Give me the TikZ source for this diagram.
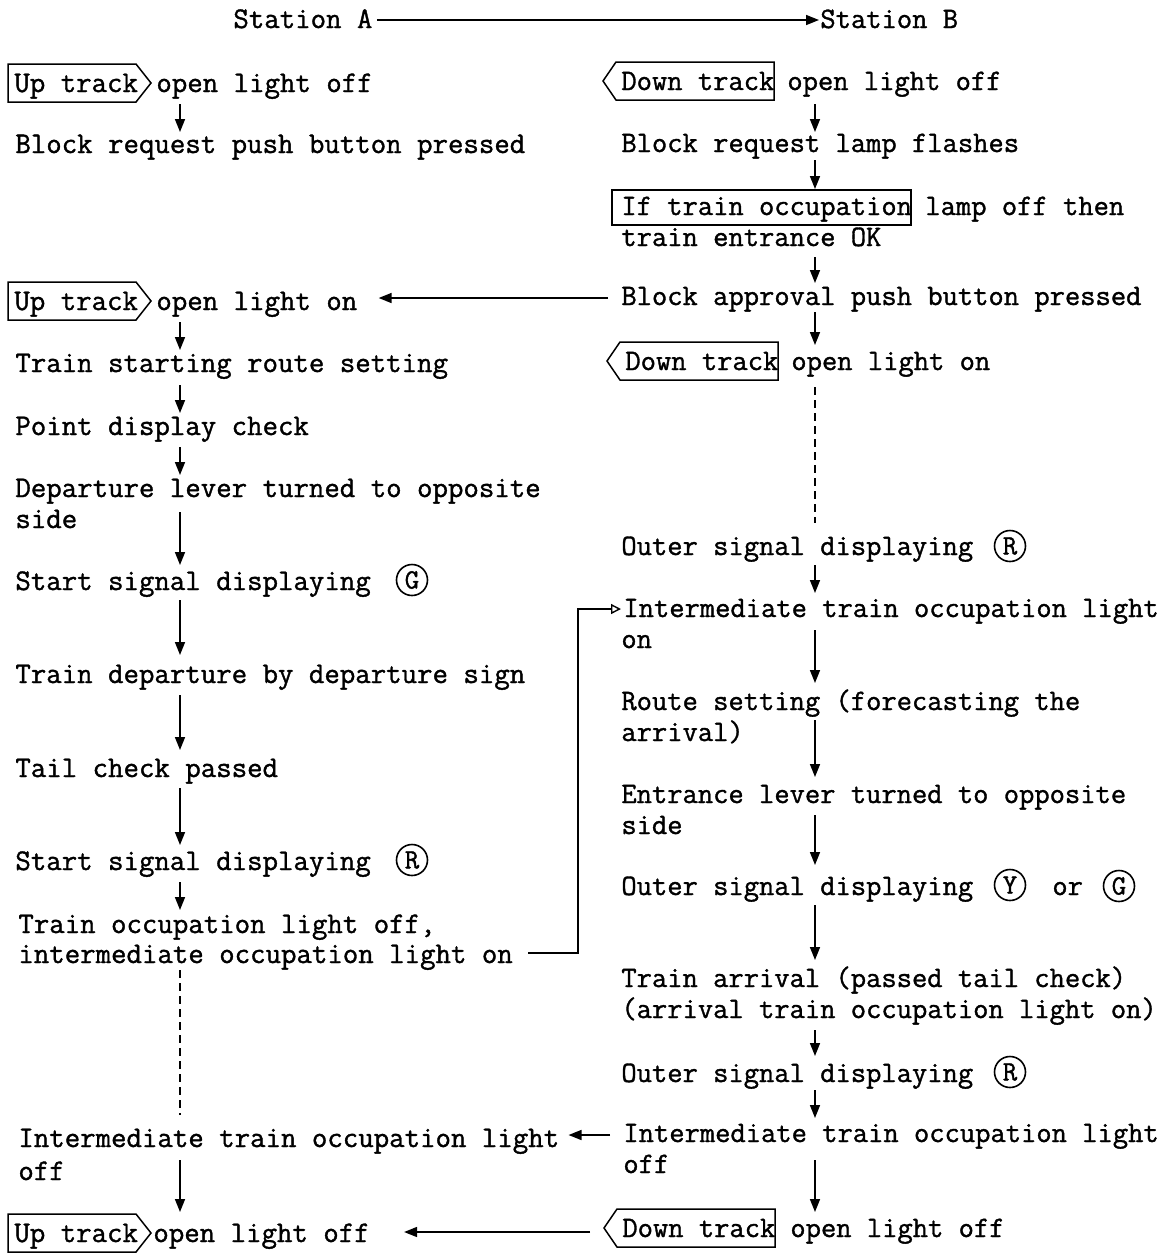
\documentclass[tikz,border=0pt]{standalone}
\usepackage{fontspec}
\newfontface\twfont{lmmono12-regular.otf}[FakeBold=1.2]
\usetikzlibrary{arrows.meta,calc}
\begin{document}
\begin{tikzpicture}[x=0.5pt,y=-0.5pt,
  every node/.style={inner sep=0pt, font=\twfont\fontsize{15}{16}\selectfont},
  txt/.style={anchor=base west},
  txtR/.style={anchor=base west, font=\twfont\fontsize{14.85}{16}\selectfont},
  boxline/.style={line width=0.75pt, line join=miter},
  sig/.style={draw, circle, minimum size=15.5pt, inner sep=0pt, line width=0.8pt,
    font=\twfont\fontsize{14}{14}\selectfont},
  arr/.style={-{Triangle[length=6.5pt,width=5pt]}, line width=0.8pt},
  dsh/.style={line width=0.9pt, dash pattern=on 4pt off 2.5pt},
  oarr/.style={-{Triangle[open,length=5pt,width=5pt]}, line width=0.7pt}
]
\fill[white] (0,0) rectangle (1170,1255);
\useasboundingbox (0,0) rectangle (1170,1255);

\coordinate (xL) at (180,0);
\coordinate (xR) at (815,0);

% header
\node[txt] (stA) at (233,28) {Station A};
\node[txtR] (stB) at (820,28) {Station B};

% left column
\node[txt] (a1box) at (14,92) {Up track};
\node[txt] (a1) at (156,92) {open light off};
\node[txt] (a2) at (15,153) {Block request push button pressed};
\node[txt] (a3box) at (14,310) {Up track};
\node[txt] (a3) at (156,310) {open light on};
\node[txt] (a4) at (15,372) {Train starting route setting};
\node[txt] (a5) at (15,435) {Point display check};
\node[txt] (a6) at (15,497) {Departure lever turned to opposite};
\node[txt] (a6b) at (15,528) {side};
\node[txt] (a7) at (15,590) {Start signal displaying};
\node[sig] (a7s) at (412,580) {G};
\node[txt] (a8) at (15,683) {Train departure by departure sign};
\node[txt] (a9) at (15,777) {Tail check passed};
\node[txt] (a10) at (15,870) {Start signal displaying};
\node[sig] (a10s) at (412,860) {R};
\node[txt] (a11) at (18,933) {Train occupation light off,};
\node[txt] (a12) at (18,963) {intermediate occupation light on};
\node[txt] (a13) at (18,1147) {Intermediate train occupation light};
\node[txt] (a13b) at (18,1180) {off};
\node[txt] (a14box) at (14,1242) {Up track};
\node[txt] (a14) at (153,1242) {open light off};

% right column
\node[txtR] (b1box) at (621,90) {Down track};
\node[txtR] (b1) at (787,90) {open light off};
\node[txtR] (b2) at (621,152) {Block request lamp flashes};
\node[txtR] (b3box) at (621,215) {If train occupation};
\node[txtR] (b3) at (925,215) {lamp off then};
\node[txtR] (b3b) at (621,246) {train entrance OK};
\node[txtR] (b4) at (621,305) {Block approval push button pressed};
\node[txtR] (b5box) at (625,370) {Down track};
\node[txtR] (b5) at (791,370) {open light on};
\node[txtR] (b6) at (621,555) {Outer signal displaying};
\node[sig] (b6s) at (1010,546) {R};
\node[txtR] (b7) at (623,617) {Intermediate train occupation light};
\node[txtR] (b7b) at (621,648) {on};
\node[txtR] (b8) at (621,710) {Route setting (forecasting the};
\node[txtR] (b8b) at (621,741) {arrival)};
\node[txtR] (b9) at (621,803) {Entrance lever turned to opposite};
\node[txtR] (b9b) at (621,834) {side};
\node[txtR] (b10) at (621,895) {Outer signal displaying};
\node[sig] (b10y) at (1010,885) {Y};
\node[txtR] (b10or) at (1052,895) {or};
\node[sig] (b10g) at (1119,886) {G};
\node[txtR] (b11) at (621,987) {Train arrival (passed tail check)};
\node[txtR] (b11b) at (621,1018) {(arrival train occupation light on)};
\node[txtR] (b12) at (621,1082) {Outer signal displaying};
\node[sig] (b12s) at (1010,1072) {R};
\node[txtR] (b13) at (623,1142) {Intermediate train occupation light};
\node[txtR] (b13b) at (623,1173) {off};
\node[txtR] (b14box) at (622,1237) {Down track};
\node[txtR] (b14) at (790,1237) {open light off};

% up track boxes (pointing right)
\foreach \n in {a1box,a3box,a14box}{
  \draw[boxline] ($(\n.base west)+(-6,-28)$) -- ++(128,0) -- ++(15,19) -- ++(-15,19) -- ++(-128,0) -- cycle;
}
% down track boxes (pointing left)
\foreach \n in {b1box,b5box,b14box}{
  \draw[boxline] ($(\n.base west)+(153,-28)$) -- ++(0,38) -- ++(-158,0) -- ++(-13,-19) -- ++(13,-19) -- cycle;
}
% if-box
\draw[boxline] ($(b3box.base west)+(-9,-25)$) rectangle ($(b3box.base west)+(290,10)$);

% header arrow
\draw[arr] ($(stA.base east)+(4,-8)$) -- ($(stB.base west)+(-1,-8)$);

% left vertical arrows
\draw[arr] ($(a1.base -| xL)+(0,12)$) -- ($(a2.base -| xL)+(0,-21)$);
\draw[arr] ($(a3.base -| xL)+(0,12)$) -- ($(a4.base -| xL)+(0,-22)$);
\draw[arr] ($(a4.base -| xL)+(0,13)$) -- ($(a5.base -| xL)+(0,-22)$);
\draw[arr] ($(a5.base -| xL)+(0,12)$) -- ($(a6.base -| xL)+(0,-22)$);
\draw[arr] ($(a6.base -| xL)+(0,15)$) -- ($(a7.base -| xL)+(0,-25)$);
\draw[arr] ($(a7.base -| xL)+(0,10)$) -- ($(a8.base -| xL)+(0,-28)$);
\draw[arr] ($(a8.base -| xL)+(0,12)$) -- ($(a9.base -| xL)+(0,-27)$);
\draw[arr] ($(a9.base -| xL)+(0,11)$) -- ($(a10.base -| xL)+(0,-25)$);
\draw[arr] ($(a10.base -| xL)+(0,12)$) -- ($(a11.base -| xL)+(0,-23)$);
\draw[dsh] ($(a12.base -| xL)+(0,7)$) -- ($(a13.base -| xL)+(0,-32)$);
\draw[arr] ($(a13.base -| xL)+(0,13)$) -- ($(a14.base -| xL)+(0,-30)$);

% right vertical arrows
\draw[arr] ($(b1.base -| xR)+(0,14)$) -- ($(b2.base -| xR)+(0,-20)$);
\draw[arr] ($(b2.base -| xR)+(0,8)$) -- ($(b3box.base -| xR)+(0,-26)$);
\draw[arr] ($(b3b.base -| xR)+(0,11)$) -- ($(b4.base -| xR)+(0,-22)$);
\draw[arr] ($(b4.base -| xR)+(0,7)$) -- ($(b5.base -| xR)+(0,-25)$);
\draw[dsh] ($(b5.base -| xR)+(0,17)$) -- ($(b6.base -| xR)+(0,-32)$);
\draw[arr] ($(b6.base -| xR)+(0,10)$) -- ($(b7.base -| xR)+(0,-24)$);
\draw[arr] ($(b7.base -| xR)+(0,13)$) -- ($(b8.base -| xR)+(0,-27)$);
\draw[arr] ($(b8.base -| xR)+(0,10)$) -- ($(b9.base -| xR)+(0,-26)$);
\draw[arr] ($(b9.base -| xR)+(0,12)$) -- ($(b10.base -| xR)+(0,-30)$);
\draw[arr] ($(b10.base -| xR)+(0,10)$) -- ($(b11.base -| xR)+(0,-27)$);
\draw[arr] ($(b11b.base -| xR)+(0,12)$) -- ($(b12.base -| xR)+(0,-26)$);
\draw[arr] ($(b12.base -| xR)+(0,8)$) -- ($(b13.base -| xR)+(0,-24)$);
\draw[arr] ($(b13.base -| xR)+(0,18)$) -- ($(b14.base -| xR)+(0,-25)$);

% horizontal connectors
\draw[arr] ($(b4.base west)+(-13,-7)$) -- ($(a3.base east |- b4.base)+(21,-7)$);
\draw[arr] ($(b13.base west)+(-13,-7)$) -- ($(a13.base east |- b13.base)+(9,-7)$);
\draw[arr] ($(b14box.base west)+(-32,-5)$) -- ($(a14.base east |- b14.base)+(34,-5)$);

% feedback connector
\coordinate (fb) at (578,609);
\draw[oarr] ($(a12.base east)+(15,-10)$) -| (fb) -- ($(b7.base west)+(-2,-8)$);
\end{tikzpicture}
\end{document}
